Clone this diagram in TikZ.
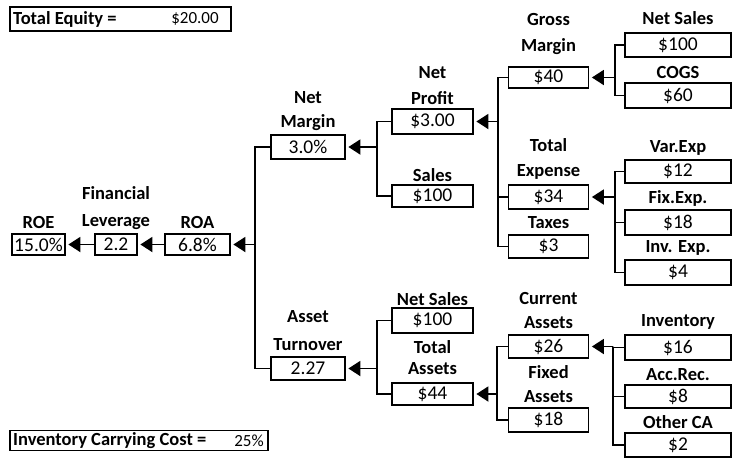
\documentclass[tikz,border=0pt]{standalone}
\usepackage{fontspec}
\setmainfont{Carlito}
\usetikzlibrary{arrows.meta}
\tikzset{
  vbox/.style={draw=black, line width=1.8pt, inner sep=0pt, minimum height=23pt,
    font=\fontsize{19.5}{19.5}\selectfont},
  lbl/.style={inner sep=0pt, font=\bfseries\fontsize{18.5}{18.5}\selectfont},
  conn/.style={line width=1.5pt},
  arr/.style={line width=1.9pt, -{Triangle[length=12pt,width=15pt]}, shorten >=2.5pt}
}
\begin{document}
\begin{tikzpicture}[x=1pt,y=-1pt]
\useasboundingbox (0,0) rectangle (734,458);
% top and bottom info boxes
\node[vbox, minimum width=221pt, minimum height=24pt] (eq) at (120.5,19) {};
\node[lbl, anchor=west] (eqt) at (13,19) {Total Equity =};
\node[inner sep=0pt, font=\fontsize{17}{17}\selectfont] (eqv) at (195,19) {\$20.00};
\node[vbox, minimum width=258pt, minimum height=20pt] (icc) at (139,440.5) {};
\node[lbl, anchor=west] (icct) at (13,440.5) {Inventory Carrying Cost =};
\node[inner sep=0pt, font=\fontsize{17}{17}\selectfont] (iccv) at (249,440.5) {25\%};
% left chain
\node[vbox, minimum width=53pt, minimum height=21pt] (roe) at (38.5,244.5) {15.0\%};
\node[vbox, minimum width=42pt, minimum height=21pt] (lev) at (116,244.5) {2.2};
\node[vbox, minimum width=65pt, minimum height=21pt] (roa) at (197.5,244.5) {6.8\%};
\node[lbl] (lroe) at (38.5,222) {ROE};
\node[lbl] (llev1) at (116,193) {Financial};
\node[lbl] (llev2) at (116,222) {Leverage};
\node[lbl] (lroa) at (197.5,222) {ROA};
% level 2
\node[vbox, minimum width=74pt, minimum height=24pt] (nm) at (308,147) {3.0\%};
\node[vbox, minimum width=74pt, minimum height=23pt] (at) at (308,368.5) {2.27};
\node[lbl] (lnm1) at (308,98) {Net};
\node[lbl] (lnm2) at (308,123) {Margin};
\node[lbl] (lat1) at (308,317) {Asset};
\node[lbl] (lat2) at (308,345) {Turnover};
% level 3
\node[vbox, minimum width=81pt, minimum height=25pt] (np) at (432.5,121.5) {\$3.00};
\node[vbox, minimum width=81pt, minimum height=22pt] (sales) at (432.5,196) {\$100};
\node[vbox, minimum width=81pt, minimum height=25pt] (ns2) at (432.5,320.5) {\$100};
\node[vbox, minimum width=81pt, minimum height=22pt] (ta) at (432.5,394) {\$44};
\node[lbl] (lnp1) at (432.5,73) {Net};
\node[lbl] (lnp2) at (432.5,98) {Profit};
\node[lbl] (lsales) at (432.5,175) {Sales};
\node[lbl] (lns2) at (432.5,299) {Net Sales};
\node[lbl] (lta1) at (432.5,347) {Total};
\node[lbl] (lta2) at (432.5,369) {Assets};
% level 4
\node[vbox, minimum width=80pt, minimum height=21pt] (gm) at (548.5,77.5) {\$40};
\node[vbox, minimum width=80pt, minimum height=24pt] (te) at (548.5,197) {\$34};
\node[vbox, minimum width=80pt, minimum height=23pt] (tx) at (548.5,246.5) {\$3};
\node[vbox, minimum width=80pt, minimum height=23pt] (ca) at (548.5,346.5) {\$26};
\node[vbox, minimum width=80pt, minimum height=24pt] (fa) at (548.5,420) {\$18};
\node[lbl] (lgm1) at (548.5,20) {Gross};
\node[lbl] (lgm2) at (548.5,47) {Margin};
\node[lbl] (lte1) at (548.5,145) {Total};
\node[lbl] (lte2) at (548.5,172) {Expense};
\node[lbl] (ltx) at (548.5,223) {Taxes};
\node[lbl] (lca1) at (548.5,298) {Current};
\node[lbl] (lca2) at (548.5,323) {Assets};
\node[lbl] (lfa1) at (548.5,372) {Fixed};
\node[lbl] (lfa2) at (548.5,397) {Assets};
% level 5 (right column)
\node[vbox, minimum width=106pt, minimum height=24pt] (nsr) at (678,45) {\$100};
\node[vbox, minimum width=106pt, minimum height=25pt] (cogs) at (678,95.5) {\$60};
\node[vbox, minimum width=106pt, minimum height=23pt] (var) at (678,171.5) {\$12};
\node[vbox, minimum width=106pt, minimum height=25pt] (fix) at (678,222.5) {\$18};
\node[vbox, minimum width=106pt, minimum height=25pt] (inv) at (678,272.5) {\$4};
\node[vbox, minimum width=106pt, minimum height=25pt] (invt) at (678,347.5) {\$16};
\node[vbox, minimum width=106pt, minimum height=23pt] (ar) at (678,396.5) {\$8};
\node[vbox, minimum width=106pt, minimum height=24pt] (oca) at (678,445) {\$2};
\node[lbl] (lnsr) at (678,18) {Net Sales};
\node[lbl] (lcogs) at (678,72) {COGS};
\node[lbl] (lvar) at (678,148) {Var.Exp};
\node[lbl] (lfix) at (678,198) {Fix.Exp.};
\node[lbl] (linv) at (678,248) {Inv. Exp.};
\node[lbl] (linvt) at (678,322) {Inventory};
\node[lbl] (lar) at (678,375) {Acc.Rec.};
\node[lbl] (loca) at (678,422) {Other CA};
% bracket points
\coordinate (b1) at (255,244.5);
\coordinate (b2) at (377,147);
\coordinate (b3) at (498,121.5);
\coordinate (b4) at (615,77.5);
\coordinate (b5) at (615,197);
\coordinate (b6) at (377,368.5);
\coordinate (b7) at (497,394);
\coordinate (b8) at (613,346.5);
% connectors
\draw[arr] (lev.west) -- (roe.east);
\draw[arr] (roa.west) -- (lev.east);
\draw[conn] (nm.west) -| (b1) |- (at.west);
\draw[arr] (b1) -- (roa.east);
\draw[conn] (np.west) -| (b2) |- (sales.west);
\draw[arr] (b2) -- (nm.east);
\draw[conn] (gm.west) -| (b3) |- (tx.west);
\draw[conn] (te.west) -- (te.west -| b3);
\draw[arr] (b3) -- (np.east);
\draw[conn] (nsr.west) -| (b4) |- (cogs.west);
\draw[arr] (b4) -- (gm.east);
\draw[conn] (var.west) -| (b5) |- (inv.west);
\draw[conn] (fix.west) -- (fix.west -| b5);
\draw[arr] (b5) -- (te.east);
\draw[conn] (ns2.west) -| (b6) |- (ta.west);
\draw[arr] (b6) -- (at.east);
\draw[conn] (ca.west) -| (b7) |- (fa.west);
\draw[arr] (b7) -- (ta.east);
\draw[conn] (invt.west) -| (b8) |- (oca.west);
\draw[conn] (ar.west) -- (ar.west -| b8);
\draw[arr] (b8) -- (ca.east);
\end{tikzpicture}
\end{document}
